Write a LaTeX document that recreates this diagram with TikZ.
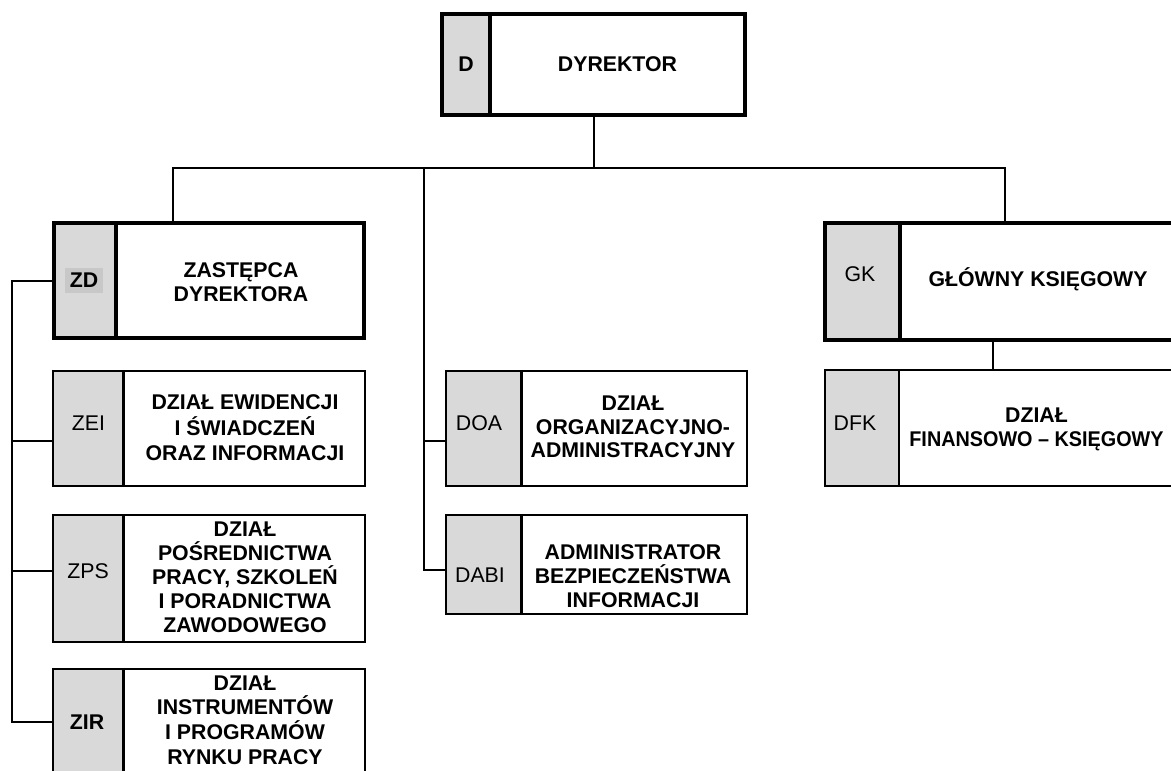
\documentclass[tikz,border=0pt]{standalone}
\usepackage{graphicx}
\usepackage{fontspec}
\setmainfont{Liberation Sans}
\usetikzlibrary{calc}
\definecolor{codegray}{HTML}{D9D9D9}
\definecolor{hlgray}{HTML}{C8C8C8}
\newcommand{\myfs}[2]{\fontsize{#1}{#2}\selectfont\lineskiplimit=-100pt\lineskip=0pt\relax}
\begin{document}
\begin{tikzpicture}[x=1pt,y=-1pt,
  dbox/.style={draw=black, line width=4pt, fill=white, rectangle, inner sep=0pt, outer sep=0pt, anchor=north west},
  sbox/.style={draw=black, line width=2.5pt, fill=white, rectangle, inner sep=0pt, outer sep=0pt, anchor=north west},
  code/.style={fill=codegray},
  conn/.style={draw=black, line width=2pt},
  txt/.style={align=center, inner sep=0pt, font=\bfseries\myfs{21.3}{#1}},
  txt/.default=24,
  lbl/.style={inner sep=0pt, font=\myfs{21.3}{24}},
  blbl/.style={inner sep=0pt, font=\bfseries\myfs{21.3}{24}},
]
\useasboundingbox (0,0) rectangle (1171,771);

% junction points of the connectors
\coordinate (busL) at (173,168);
\coordinate (busM) at (424,168);
\coordinate (busR) at (1005,168);
\coordinate (jZD) at (12,281);
\coordinate (jZEI) at (12,441);
\coordinate (jZPS) at (12,571);
\coordinate (jZIR) at (12,722);
\coordinate (jDOA) at (424,441);
\coordinate (jDABI) at (424,570);
\coordinate (jGK) at (993,0);

% ---------- boxes ----------
% Dyrektor
\node[dbox, minimum width=303pt, minimum height=101pt] (d) at (442,14) {};
\node[dbox, code, minimum width=48pt, minimum height=101pt] (dC) at (d.north west) {};
% Zastepca
\node[dbox, minimum width=310pt, minimum height=115pt] (zd) at (54,223) {};
\node[dbox, code, minimum width=62pt, minimum height=115pt] (zdC) at (zd.north west) {};
% Glowny ksiegowy
\node[dbox, minimum width=353pt, minimum height=117pt] (gk) at (825,223) {};
\node[dbox, code, minimum width=75pt, minimum height=117pt] (gkC) at (gk.north west) {};
% left column
\node[sbox, minimum width=312pt, minimum height=115pt] (zei) at (53,371) {};
\node[sbox, code, minimum width=70.5pt, minimum height=115pt] (zeiC) at (zei.north west) {};
\node[sbox, minimum width=312pt, minimum height=127pt] (zps) at (53,515) {};
\node[sbox, code, minimum width=70.5pt, minimum height=127pt] (zpsC) at (zps.north west) {};
\node[sbox, minimum width=312pt, minimum height=110pt] (zir) at (53,669) {};
\node[sbox, code, minimum width=70.5pt, minimum height=110pt] (zirC) at (zir.north west) {};
% middle column
\node[sbox, minimum width=301pt, minimum height=115pt] (doa) at (446,371) {};
\node[sbox, code, minimum width=75.5pt, minimum height=115pt] (doaC) at (doa.north west) {};
\node[sbox, minimum width=301pt, minimum height=99pt] (dabi) at (446,515) {};
\node[sbox, code, minimum width=75.5pt, minimum height=99pt] (dabiC) at (dabi.north west) {};
% right column
\node[sbox, line width=2pt, minimum width=353pt, minimum height=116pt] (dfk) at (825,370) {};
\node[sbox, line width=2pt, code, minimum width=74pt, minimum height=116pt] (dfkC) at (dfk.north west) {};

% ---------- connectors ----------
\draw[conn] (d.south) -- (d.south |- busL);
\draw[conn] (zd.north -| busL) -- (busL) -- (busR) -- (gk.north -| busR);
\draw[conn] (busM) -- (jDABI) -- (jDABI -| dabi.west);
\draw[conn] (jDOA) -- (jDOA -| doa.west);
\draw[conn] (jZD -| zd.west) -- (jZD) -- (jZIR) -- (jZIR -| zir.west);
\draw[conn] (jZEI) -- (jZEI -| zei.west);
\draw[conn] (jZPS) -- (jZPS -| zps.west);
\draw[conn] (gk.south -| jGK) -- (dfk.north -| jGK);

% ---------- codes ----------
\node[blbl] (dL) at (466,64) {D};
\node[blbl, fill=hlgray, minimum width=38pt, minimum height=25pt] (zdL) at (84,280) {ZD};
\node[lbl] (zeiL) at (88.5,423.5) {ZEI};
\node[lbl] (zpsL) at (88,571.5) {ZPS};
\node[blbl] (zirL) at (87,722.5) {ZIR};
\node[lbl] (doaL) at (479,423.5) {DOA};
\node[lbl] (dabiL) at (480,575) {DABI};
\node[lbl] (gkL) at (860,274) {GK};
\node[lbl] (dfkL) at (855,423.5) {DFK};

% ---------- names ----------
\node[txt] (dT) at (617.5,64.5) {DYREKTOR};
\node[txt=24] (zdT) at (241,282) {ZASTĘPCA\\DYREKTORA};
\node[txt=25.5] (zeiT) at (245,428) {DZIAŁ EWIDENCJI\\I ŚWIADCZEŃ\\ORAZ INFORMACJI};
\node[txt=24] (zpsT) at (245,577) {DZIAŁ\\POŚREDNICTWA\\PRACY, SZKOLEŃ\\I PORADNICTWA\\ZAWODOWEGO};
\node[txt=24.7] (zirT) at (245,720) {DZIAŁ\\INSTRUMENTÓW\\I PROGRAMÓW\\RYNKU PRACY};
\node[txt=23.5] (doaT) at (633,427) {DZIAŁ\\ORGANIZACYJNO-\\ADMINISTRACYJNY};
\node[txt=24] (dabiT) at (633,576) {ADMINISTRATOR\\BEZPIECZEŃSTWA\\INFORMACJI};
\node[txt] (gkT) at (1038,279) {GŁÓWNY KSIĘGOWY};
\node[txt=24] (dfkT) at (1036.5,429) {DZIAŁ\\\scalebox{0.93}[1]{FINANSOWO – KSIĘGOWY}};
\end{tikzpicture}
\end{document}
